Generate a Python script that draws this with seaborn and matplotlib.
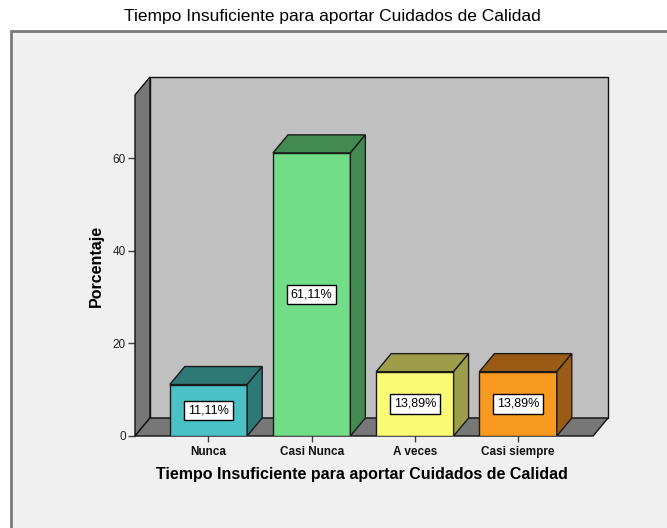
import seaborn as sns
import matplotlib.pyplot as plt
from matplotlib.patches import Polygon, Rectangle

# data
categorias = ["Nunca", "Casi Nunca", "A veces", "Casi siempre"]
porcentajes = [11.11, 61.11, 13.89, 13.89]
etiquetas = ["11,11%", "61,11%", "13,89%", "13,89%"]
colores_frente = ["#4ac1c5", "#72dd87", "#fafa75", "#f99a20"]
colores_lado = ["#2e7878", "#438a50", "#9e9e4a", "#9a5c14"]
titulo = "Tiempo Insuficiente para aportar Cuidados de Calidad"

sns.set_style("white")
plt.rcParams["font.family"] = ["Liberation Sans", "DejaVu Sans"]
plt.rcParams["text.color"] = "black"
plt.rcParams["axes.labelcolor"] = "black"

fig = plt.figure(figsize=(6.67, 5.28), dpi=100)
W, H = 667, 528

# light gray frame behind the chart
fig.patches.append(Rectangle((11 / W, -0.05), 1, 1.05 - 31 / H, transform=fig.transFigure,
                             facecolor="#f0f0f0", edgecolor="#7a7a7a", linewidth=2, zorder=-5))
fig.text(332 / W, 1 - 16 / H, titulo, ha="center", va="center", fontsize=12.5, color="black")

# axes in pixel placement (front floor edge = y 0)
ax = fig.add_axes([135 / W, 1 - 436 / H, 473 / W, 359 / H])
ax.patch.set_alpha(0)

xl, xr = -0.712, 3.871
ymax = 77.49
dx, dy = 0.145, 3.885  # 3D depth offset in data units

sns.barplot(x=categorias, y=porcentajes, hue=categorias, palette=colores_frente,
            width=0.75, legend=False, edgecolor="#1a1a1a", linewidth=1, saturation=1, ax=ax)
bars = [p for c in ax.containers for p in c if p.get_height() > 0]

# back wall, left wall and floor
ax.add_patch(Rectangle((xl + dx, dy), xr - xl - dx, ymax - dy, facecolor="#c0c0c0",
                       edgecolor="#111111", linewidth=1, zorder=0.5, clip_on=False))
ax.add_patch(Polygon([(xl, 0), (xl + dx, dy), (xl + dx, ymax), (xl, ymax - dy)],
                     facecolor="#777777", edgecolor="#111111", linewidth=1, zorder=0.6, clip_on=False))
ax.add_patch(Polygon([(xl, 0), (xr - dx, 0), (xr, dy), (xl + dx, dy)],
                     facecolor="#777777", edgecolor="#111111", linewidth=1, zorder=0.6, clip_on=False))

for p, lado, txt in zip(bars, colores_lado, etiquetas):
    x0, w, h = p.get_x(), p.get_width(), p.get_height()
    p.set_zorder(2)
    ax.add_patch(Polygon([(x0, h), (x0 + w, h), (x0 + w + dx, h + dy), (x0 + dx, h + dy)],
                         facecolor=lado, edgecolor="#1a1a1a", linewidth=1, zorder=2))
    ax.add_patch(Polygon([(x0 + w, 0), (x0 + w + dx, dy), (x0 + w + dx, h + dy), (x0 + w, h)],
                         facecolor=lado, edgecolor="#1a1a1a", linewidth=1, zorder=2))
    ax.text(x0 + w / 2, h / 2, txt, ha="center", va="center", fontsize=9, zorder=3,
            bbox=dict(boxstyle="square,pad=0.3", facecolor="white", edgecolor="black", linewidth=1))

ax.set_xlim(xl, xr)
ax.set_ylim(0, ymax)
sns.despine(ax=ax, left=True, bottom=True)
ax.set_yticks([0, 20, 40, 60])
ax.tick_params(axis="y", left=True, length=5, width=1, color="#404040", pad=1.5,
               labelsize=8.5, labelcolor="#222222")
ax.tick_params(axis="x", bottom=True, length=4.5, width=1, color="#404040", pad=3,
               labelsize=8.5, labelcolor="#111111")
for lab in ax.get_xticklabels():
    lab.set_fontweight("bold")

ax.set_xlabel(titulo, fontsize=11.5, fontweight="bold")
ax.xaxis.set_label_coords(0.48, -0.106)
ax.xaxis.label.set_va("center")
ax.set_ylabel("Porcentaje", fontsize=11.5, fontweight="bold")
ax.yaxis.set_label_coords(-0.0825, 0.4735)
ax.yaxis.label.set_va("center")

fig.savefig("out.png", dpi=100, facecolor="white")
